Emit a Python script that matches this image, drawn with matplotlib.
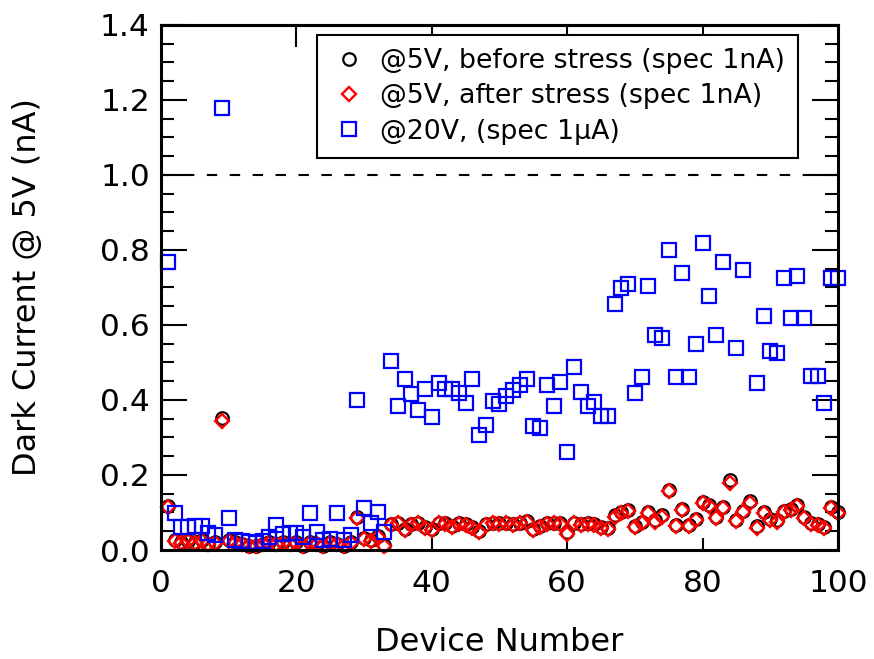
import numpy as np
import matplotlib
matplotlib.use('Agg')
import matplotlib.pyplot as plt
from matplotlib.ticker import MultipleLocator, NullFormatter

# Device index 1..100
device = np.arange(1, 101)

# Dark current @5V before stress (nA)
before_stress = [
    0.118, 0.028, 0.022, 0.024, 0.022, 0.027, 0.017, 0.021, 0.352, 0.027,
    0.022, 0.016, 0.012, 0.011, 0.017, 0.022, 0.017, 0.021, 0.017, 0.022,
    0.012, 0.022, 0.017, 0.012, 0.021, 0.017, 0.012, 0.022, 0.088, 0.032,
    0.027, 0.037, 0.014, 0.070, 0.073, 0.056, 0.069, 0.073, 0.062, 0.056,
    0.073, 0.072, 0.064, 0.072, 0.069, 0.062, 0.052, 0.069, 0.073, 0.072,
    0.073, 0.069, 0.073, 0.078, 0.056, 0.064, 0.072, 0.073, 0.072, 0.047,
    0.073, 0.069, 0.072, 0.069, 0.061, 0.058, 0.092, 0.101, 0.107, 0.065,
    0.074, 0.101, 0.079, 0.092, 0.160, 0.067, 0.110, 0.067, 0.083, 0.128,
    0.119, 0.088, 0.114, 0.186, 0.080, 0.105, 0.130, 0.063, 0.101, 0.083,
    0.079, 0.105, 0.110, 0.119, 0.088, 0.073, 0.070, 0.061, 0.114, 0.101,
]

# Dark current @5V after stress (nA)
after_stress = [
    0.115, 0.025, 0.020, 0.025, 0.020, 0.025, 0.015, 0.020, 0.345, 0.025,
    0.020, 0.015, 0.010, 0.010, 0.015, 0.020, 0.015, 0.020, 0.015, 0.020,
    0.010, 0.020, 0.015, 0.010, 0.020, 0.015, 0.010, 0.020, 0.085, 0.030,
    0.025, 0.035, 0.012, 0.067, 0.071, 0.053, 0.067, 0.071, 0.060, 0.053,
    0.071, 0.070, 0.062, 0.070, 0.067, 0.060, 0.049, 0.067, 0.071, 0.070,
    0.071, 0.067, 0.071, 0.076, 0.053, 0.062, 0.070, 0.071, 0.070, 0.044,
    0.071, 0.067, 0.070, 0.067, 0.059, 0.056, 0.089, 0.098, 0.104, 0.062,
    0.071, 0.098, 0.076, 0.089, 0.156, 0.064, 0.107, 0.064, 0.080, 0.124,
    0.116, 0.085, 0.111, 0.178, 0.077, 0.102, 0.126, 0.060, 0.098, 0.080,
    0.076, 0.102, 0.107, 0.116, 0.085, 0.070, 0.067, 0.058, 0.111, 0.098,
]

# Dark current @20V (devices 84 and 87 have no reading)
at_20v = [
    0.768, 0.098, 0.062, 0.062, 0.065, 0.065, 0.045, 0.040, 1.178, 0.085,
    0.028, 0.025, 0.022, 0.020, 0.025, 0.035, 0.068, 0.043, 0.045, 0.045,
    0.035, 0.098, 0.049, 0.027, 0.030, 0.098, 0.027, 0.040, 0.400, 0.111,
    0.071, 0.100, 0.049, 0.504, 0.384, 0.456, 0.416, 0.373, 0.430, 0.355,
    0.445, 0.430, 0.430, 0.418, 0.392, 0.456, 0.307, 0.333, 0.397, 0.390,
    0.410, 0.427, 0.440, 0.456, 0.330, 0.325, 0.440, 0.385, 0.447, 0.260,
    0.488, 0.420, 0.385, 0.395, 0.357, 0.357, 0.656, 0.699, 0.709, 0.419,
    0.460, 0.704, 0.573, 0.565, 0.800, 0.460, 0.739, 0.460, 0.549, 0.819,
    0.677, 0.573, 0.768, np.nan, 0.539, 0.747, np.nan, 0.445, 0.624, 0.531,
    0.525, 0.725, 0.619, 0.730, 0.619, 0.464, 0.464, 0.392, 0.725, 0.725,
]

labels = ['@5V, before stress (spec 1nA)',
          '@5V, after stress (spec 1nA)',
          '@20V, (spec 1\u03bcA)']

fig = plt.figure(figsize=(8.74, 6.59), dpi=100)
ax = fig.add_axes([0.1842, 0.1654, 0.7746, 0.7967])

ax.plot(device, before_stress, 'o', ms=9.0, mfc='none', mec='black',
        mew=1.6, label=labels[0], clip_on=False)
ax.plot(device, after_stress, 'D', ms=7.0, mfc='none', mec='red',
        mew=1.7, label=labels[1], clip_on=False)
ax.plot(device, at_20v, 's', ms=9.4, mfc='none', mec='blue',
        mew=1.6, label=labels[2], clip_on=False)

# spec limit
ax.axhline(1.0, color='black', lw=1.5, ls=(0, (5, 6)))

ax.set_xlim(0, 100)
ax.set_ylim(0, 1.4)
ax.xaxis.set_major_locator(MultipleLocator(20))
ax.yaxis.set_major_locator(MultipleLocator(0.2))
ax.yaxis.set_minor_locator(MultipleLocator(0.05))

for sp in ax.spines.values():
    sp.set_linewidth(2.2)

ax.tick_params(axis='y', which='major', direction='in', length=19, width=1.5,
               left=True, right=True, labelsize=22.5, pad=8)
ax.tick_params(axis='y', which='minor', direction='in', length=9.5, width=1.5,
               left=True, right=True)
ax.tick_params(axis='x', which='major', direction='in', length=9, width=1.5,
               bottom=True, top=False, labelsize=22.5, pad=14)

# longer ticks on top edge
secax = ax.secondary_xaxis('top')
secax.set_xticks([20, 40, 60, 80])
secax.xaxis.set_major_formatter(NullFormatter())
secax.tick_params(direction='in', length=16, width=1.5)
secax.spines['top'].set_linewidth(2.2)

ax.set_xlabel('Device Number', fontsize=23)
ax.set_ylabel('Dark Current @ 5V (nA)', fontsize=23)
ax.xaxis.set_label_coords(0.5, -0.177)
ax.xaxis.label.set_va('center')
ax.yaxis.set_label_coords(-0.197, 0.5)
ax.yaxis.label.set_va('center')

leg = ax.legend(loc='upper right', bbox_to_anchor=(0.941, 0.981), fontsize=19.3,
                fancybox=False, edgecolor='black', framealpha=1,
                handlelength=1.4, handletextpad=0.45, borderpad=0.5,
                labelspacing=0.34, borderaxespad=0, numpoints=1)
leg.get_frame().set_linewidth(1.5)

fig.savefig('out.png', dpi=100)
